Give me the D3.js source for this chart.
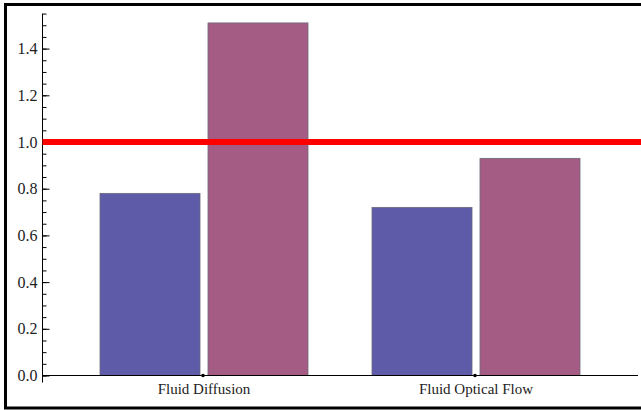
<!DOCTYPE html>
<html lang="en">
  <head>
    <meta charset="utf-8">
    <title>Fluid methods</title>
    <style>
      body { margin: 0; background: white; }
      svg { display: block; }
      .tick text { font-family: "Liberation Serif", "Times New Roman", serif; font-size: 16px; fill: #222; }
      .cat { font-family: "Liberation Serif", "Times New Roman", serif; font-size: 15px; fill: #222; }
    </style>
    <script src="https://d3js.org/d3.v7.min.js"></script>
  </head>
  <body>
    <script>
    // data
    const categories = ["Fluid Diffusion", "Fluid Optical Flow"];
    const series = ["a", "b"];
    const valuesA = [0.78, 0.72];
    const valuesB = [1.51, 0.93];
    const refValue = 1.0;
    const majorTicks = [0, 0.2, 0.4, 0.6, 0.8, 1.0, 1.2, 1.4];

    const width = 641, height = 410;
    const colors = { a: "#5e5ca8", b: "#a55c84" };

    const svg = d3.select("body")
                  .append("svg")
                  .attr("width", width)
                  .attr("height", height);

    // frame
    svg.append("rect")
      .attr("x", 5.5)
      .attr("y", 4.5)
      .attr("width", 645)
      .attr("height", 403.5)
      .attr("fill", "none")
      .attr("stroke", "black")
      .attr("stroke-width", 3);

    const x0 = 42.5, y0 = 375.5;

    const y = d3.scaleLinear()
      .domain([0, 1.55])
      .range([y0, y0 - 1.55 * 233.5]);

    const x = d3.scaleBand()
      .domain(categories)
      .range([68, 612])
      .padding(0);

    const xs = d3.scaleBand()
      .domain(series)
      .range([-104, 104])
      .paddingInner(0.074);

    const rows = categories.map((c, i) => ({ cat: c, a: valuesA[i], b: valuesB[i] }));

    const groups = svg.append("g")
      .selectAll("g")
      .data(rows)
      .join("g")
      .attr("transform", d => `translate(${x(d.cat) + x.bandwidth() / 2},0)`);

    groups.selectAll("rect")
      .data(d => series.map(s => ({ key: s, value: d[s] })))
      .join("rect")
      .attr("x", d => xs(d.key))
      .attr("width", xs.bandwidth())
      .attr("y", d => y(d.value))
      .attr("height", d => y(0) - y(d.value))
      .attr("fill", d => colors[d.key])
      .attr("stroke", "#6a6a7a")
      .attr("stroke-width", 0.8);

    // x axis line
    svg.append("line")
      .attr("x1", x0).attr("x2", 638)
      .attr("y1", y0).attr("y2", y0)
      .attr("stroke", "black");

    svg.append("g")
      .selectAll("circle")
      .data(categories)
      .join("circle")
      .attr("cx", d => x(d) + x.bandwidth() / 2 - 1)
      .attr("cy", y0)
      .attr("r", 1.8)
      .attr("fill", "black");

    svg.append("g")
      .selectAll("text")
      .data(categories)
      .join("text")
      .attr("class", "cat")
      .attr("x", d => x(d) + x.bandwidth() / 2)
      .attr("y", 394)
      .attr("text-anchor", "middle")
      .text(d => d);

    // y axis: minor ticks
    svg.append("g")
      .attr("transform", `translate(${x0},0)`)
      .call(d3.axisLeft(y).tickValues(d3.range(0, 1.551, 0.05)).tickSize(-4).tickFormat(""))
      .call(g => g.select(".domain").remove());

    svg.append("g")
      .attr("transform", `translate(${x0},0)`)
      .call(d3.axisLeft(y).tickValues(majorTicks).tickSize(-7).tickPadding(5).tickFormat(d3.format(".1f")))
      .call(g => g.select(".domain").remove());

    svg.append("line")
      .attr("x1", x0).attr("x2", x0)
      .attr("y1", y(1.55)).attr("y2", y0 + 7)
      .attr("stroke", "black");

    // reference line
    svg.append("line")
      .attr("x1", x0).attr("x2", width)
      .attr("y1", y(refValue)).attr("y2", y(refValue))
      .attr("stroke", "red")
      .attr("stroke-width", 6);
    </script>
  </body>
</html>
